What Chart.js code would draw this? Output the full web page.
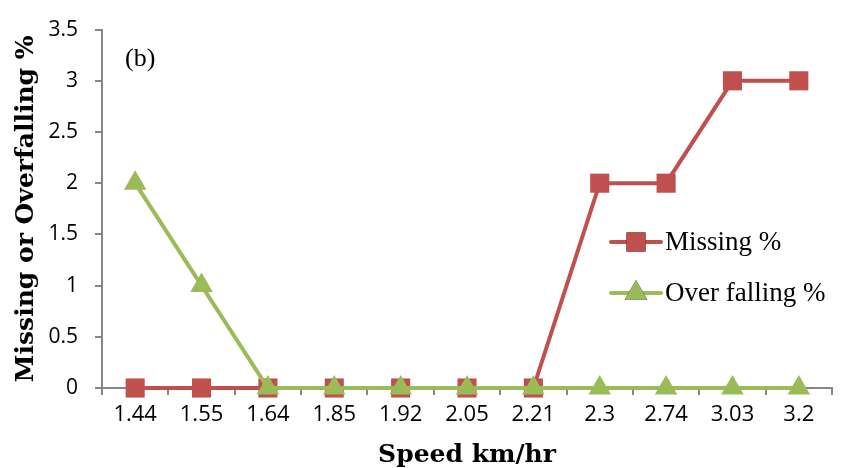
<!DOCTYPE html>
<html>
<head>
<meta charset="utf-8">
<script src="https://cdn.jsdelivr.net/npm/chart.js@4.4.1/dist/chart.umd.min.js"></script>
<style>
body { margin: 0; background: #fff; }
</style>
</head>
<body>
<canvas id="grafico" width="846" height="468"></canvas>
<script>
var velocidades = ['1.44', '1.55', '1.64', '1.85', '1.92', '2.05', '2.21', '2.3', '2.74', '3.03', '3.2'];
var missing = [0, 0, 0, 0, 0, 0, 0, 2, 2, 3, 3];
var overFalling = [2, 1, 0, 0, 0, 0, 0, 0, 0, 0, 0];

var vermelho = '#C0504D';
var verde = '#9BBB59';
var cinza = '#868686';

// legenda dentro da area do grafico + o "(b)"
var extras = {
	id: 'extras',
	afterDatasetsDraw: function (chart) {
		let ctx = chart.ctx;
		ctx.save();
		ctx.fillStyle = '#000';
		ctx.font = '26px "Liberation Serif"';
		ctx.textBaseline = 'middle';
		ctx.textAlign = 'left';
		ctx.fillText('(b)', 125, 59);

		let itens = [0, 1];
		let ys = [242, 293];
		for (let i = 0; i < itens.length; i++) {
			let ds = chart.data.datasets[itens[i]];
			let y = ys[i];
			ctx.strokeStyle = ds.borderColor;
			ctx.lineWidth = 4;
			ctx.lineCap = 'round';
			ctx.beginPath();
			ctx.moveTo(611, y);
			ctx.lineTo(661, y);
			ctx.stroke();
			Chart.helpers.drawPoint(ctx, {
				pointStyle: ds.pointStyle,
				radius: ds.pointRadius,
				borderWidth: 0
			}, 636, y);
			ctx.fillStyle = ds.backgroundColor;
			ctx.fill();
			ctx.fillStyle = '#000';
			ctx.font = '27px "Liberation Serif"';
			ctx.fillText(ds.label, 665, y + 1);
		}
		ctx.restore();
	}
};

function carregarGrafico() {
	let canvas = document.getElementById('grafico');

	new Chart(canvas, {
		type: 'line',
		data: {
			labels: velocidades,
			datasets: [{
				label: 'Missing %',
				data: missing,
				borderColor: vermelho,
				backgroundColor: vermelho,
				borderWidth: 4,
				pointStyle: 'rect',
				pointRadius: 13.5,
				pointBorderWidth: 0,
				tension: 0,
				clip: false,
				order: 2
			}, {
				label: 'Over falling %',
				data: overFalling,
				borderColor: verde,
				backgroundColor: verde,
				borderWidth: 4,
				pointStyle: 'triangle',
				pointRadius: 13,
				pointBorderWidth: 0,
				tension: 0,
				clip: false,
				order: 1
			}]
		},
		options: {
			responsive: false,
			animation: false,
			layout: {
				padding: { top: 18, right: 14, left: 0, bottom: 0 }
			},
			plugins: {
				legend: { display: false },
				tooltip: { enabled: false }
			},
			scales: {
				x: {
					offset: true,
					afterFit: function (scale) { scale.height = 80; },
					grid: {
						offset: true,
						drawOnChartArea: false,
						color: cinza,
						lineWidth: 2,
						tickLength: 7
					},
					border: { color: cinza, width: 2 },
					ticks: {
						color: '#000',
						padding: 7,
						maxRotation: 0,
						font: { family: '"Open Sans"', size: 22 }
					},
					title: {
						display: true,
						text: 'Speed km/hr',
						color: '#000',
						padding: { top: 0, bottom: -2 },
						font: { family: '"DejaVu Serif"', size: 25, weight: 'bold' }
					}
				},
				y: {
					min: 0,
					max: 3.5,
					afterFit: function (scale) { scale.width = 102; },
					grid: {
						drawOnChartArea: false,
						color: cinza,
						lineWidth: 2,
						tickLength: 7
					},
					border: { color: cinza, width: 2 },
					ticks: {
						stepSize: 0.5,
						color: '#000',
						padding: 17,
						font: { family: '"Open Sans"', size: 21 },
						callback: function (valor) { return String(valor); }
					},
					title: {
						display: true,
						text: 'Missing or Overfalling %',
						color: '#000',
						padding: { top: 11, bottom: 0 },
						font: { family: '"DejaVu Serif"', size: 25, weight: 'bold' }
					}
				}
			}
		},
		plugins: [extras]
	});
}

carregarGrafico();
</script>
</body>
</html>
